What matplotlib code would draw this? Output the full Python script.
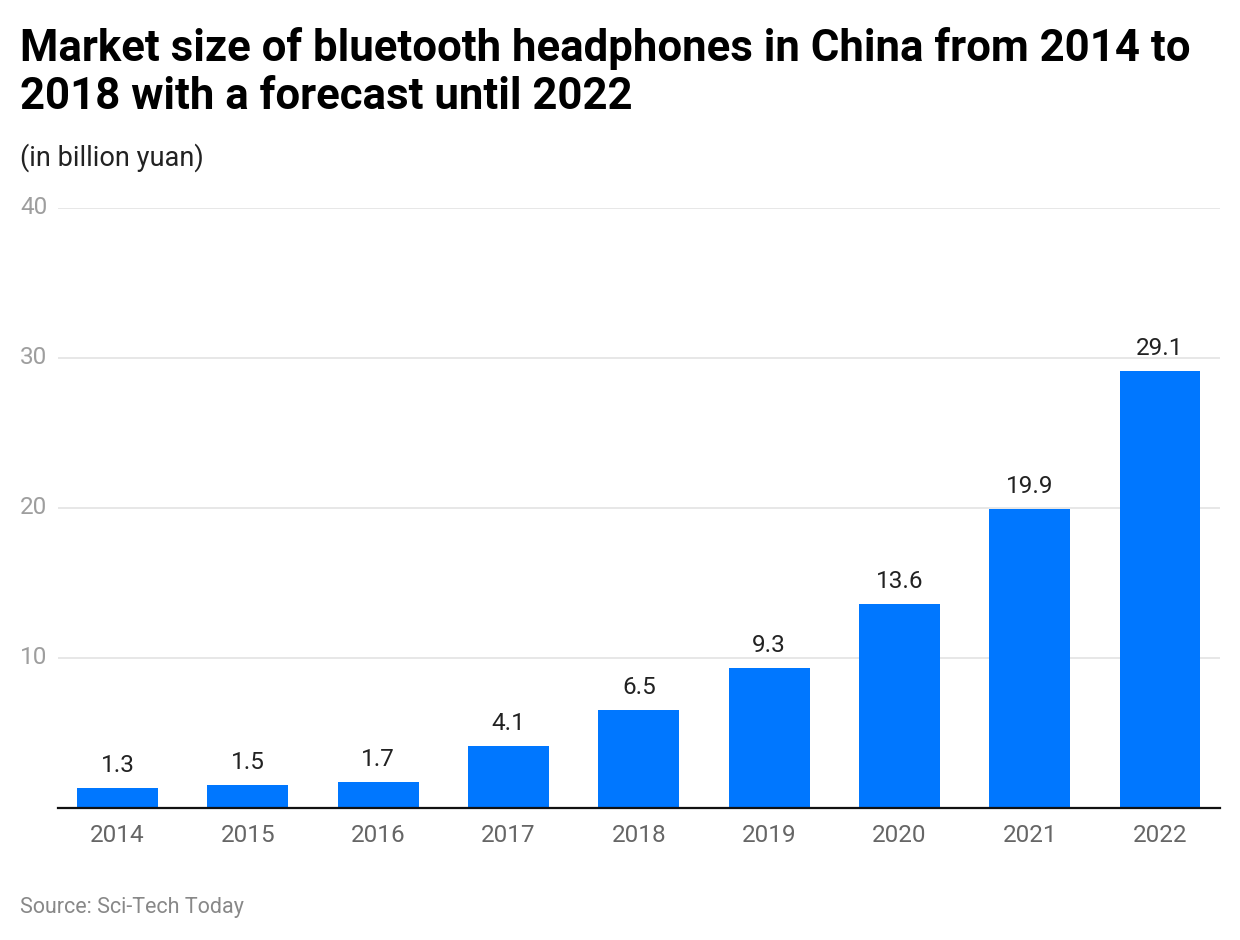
import matplotlib
matplotlib.use("Agg")
import matplotlib.pyplot as plt
from matplotlib.transforms import blended_transform_factory

years = ["2014", "2015", "2016", "2017", "2018", "2019", "2020", "2021", "2022"]
values = [1.3, 1.5, 1.7, 4.1, 6.5, 9.3, 13.6, 19.9, 29.1]
yticks = [10, 20, 30, 40]

plt.rcParams['font.family'] = ['Roboto', 'DejaVu Sans']

fig = plt.figure(figsize=(12.4, 9.4), dpi=100)
W, H = 1240, 940
ax = fig.add_axes([58 / W, 1 - 807.5 / H, (1220 - 58) / W, (807.5 - 208) / H])

x = list(range(len(years)))
ax.bar(x, values, width=0.62, color="#0077FF", zorder=3)
for xi, v in zip(x, values):
    ax.annotate(f"{v}", (xi, v), xytext=(0, 8), textcoords="offset points",
                ha="center", va="bottom", fontsize=17.5, color="#222222")

ax.set_xlim(-0.457, 8.46)
ax.set_ylim(0, 40)
ax.set_yticks(yticks)
ax.set_xticks(x)
ax.set_xticklabels(years)
ax.grid(axis="y", color="#e3e3e3", linewidth=1.2, zorder=0)
for s in ["top", "right", "left"]:
    ax.spines[s].set_visible(False)
ax.spines["bottom"].set_color("#111111")
ax.spines["bottom"].set_linewidth(1.6)
ax.spines["bottom"].set_zorder(4)
ax.tick_params(axis="y", length=0, labelleft=False)
ax.tick_params(axis="x", length=0, labelsize=17.5, labelcolor="#666666", pad=12)

trans = blended_transform_factory(fig.transFigure, ax.transData)
for t in yticks:
    fig.text(20 / W, t, str(t), transform=trans, ha="left", va="center",
             fontsize=17.5, color="#9e9e9e")

fig.text(20 / W, 1 - 27 / H,
         "Market size of bluetooth headphones in China from 2014 to\n2018 with a forecast until 2022",
         ha="left", va="top", fontsize=31.5, fontweight="bold", color="#000000",
         linespacing=1.17)
fig.text(20 / W, 1 - 158 / H, "(in billion yuan)", ha="left", va="center",
         fontsize=19.5, color="#222222")
fig.text(20 / W, 1 - 907 / H, "Source: Sci-Tech Today", ha="left", va="center",
         fontsize=15.5, color="#888888")

fig.savefig("out.png", dpi=100)
